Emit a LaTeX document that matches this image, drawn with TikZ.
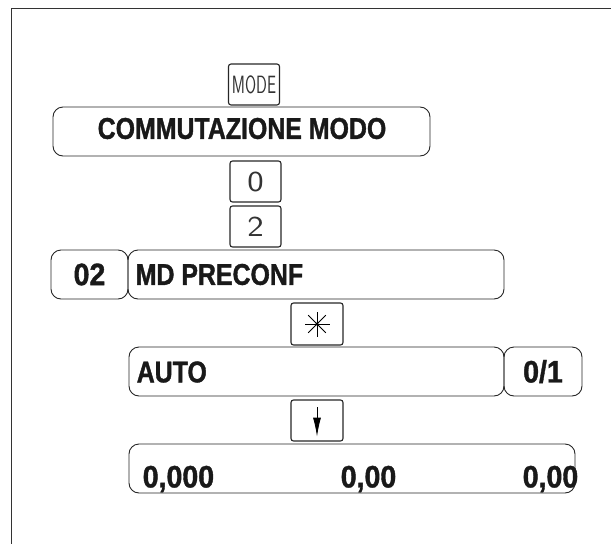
\documentclass[tikz,border=0pt]{standalone}
\usepackage{fontspec}
\usetikzlibrary{arrows.meta}
\newfontfamily\lblfont[FakeStretch=0.83, FakeBold=1.2]{Liberation Sans Bold}
\newfontfamily\numfont[FakeStretch=0.92, FakeBold=1.2]{Liberation Sans Bold}
\newfontfamily\keyfont[FakeStretch=0.64]{Latin Modern Sans}
\newfontfamily\keydigit[FakeStretch=1.2]{Latin Modern Sans}
\tikzset{
	panel/.style={draw=black!85, line width=0.9pt, rounded corners=10pt, inner sep=0pt, minimum height=49pt},
	keybox/.style={draw=black!85, line width=1.1pt, rounded corners=2.5pt, inner sep=0pt, minimum width=51pt, minimum height=41pt},
	lbl/.style={font=\lblfont\fontsize{30}{32}\selectfont, inner sep=0pt, text=black!90},
	num/.style={font=\numfont\fontsize{31}{33}\selectfont, inner sep=0pt, text=black!90},
	frame/.style={draw=black!80, line width=1.4pt}
}
\begin{document}
\begin{tikzpicture}[x=1pt, y=-1pt]
	\useasboundingbox (0,0) rectangle (611,544);
	\draw[frame] (611,8.5) -| (11.5,544);
	\node[keybox, font=\keyfont\fontsize{25}{27}\selectfont, text=black!80] (modekey) at (254,84.5) {MODE};
	\node[panel, minimum width=377pt] (title) at (241.5,131.5) {};
	\node[lbl] (titletext) at (242,128.5) {COMMUTAZIONE MODO};
	\node[keybox, font=\keydigit\fontsize{29}{31}\selectfont, text=black!80] (key0) at (255.5,181.5) {0};
	\node[keybox, font=\keydigit\fontsize{29}{31}\selectfont, text=black!80] (key2) at (255.5,226.5) {2};
	\node[panel, minimum width=77pt] (code) at (89.5,274.5) {};
	\node[num] (codetext) at (code.center) {02};
	\node[panel, minimum width=376pt] (menu) at (316,274.5) {};
	\node[lbl, anchor=west] (menutext) at ([shift={(8,0)}]menu.west) {MD PRECONF};
	\node[keybox, minimum width=52pt, minimum height=42pt] (starkey) at (317,324) {};
	\foreach \a in {0,45,90,135}
		\draw[line width=0.9pt] ([shift={(\a:12.5)}]starkey.center) -- ([shift={(\a+180:12.5)}]starkey.center);
	\fill (starkey.center) circle (1.6pt);
	\node[panel, minimum width=375pt] (auto) at (316.5,371.5) {};
	\node[lbl, anchor=west] (autotext) at ([shift={(8,0.5)}]auto.west) {AUTO};
	\node[panel, minimum width=78pt] (range) at (543,371.5) {};
	\node[num, anchor=base] (rangetext) at ([shift={(0,-14)}]range.south) {0/1};
	\node[keybox, minimum width=52pt] (downkey) at (317,420.5) {};
	\draw[line width=0.9pt, -{Latex[length=19pt, width=8pt]}] ([shift={(0,8)}]downkey.north) -- ([shift={(0,-5)}]downkey.south);
	\node[panel, minimum width=446pt] (readout) at (352,468.5) {};
	\node[num, anchor=base west] (weight) at ([shift={(14,-6)}]readout.south west) {0,000};
	\node[num, anchor=base west] (price) at ([shift={(212,-6)}]readout.south west) {0,00};
	\node[num, anchor=base east] (total) at ([shift={(3,-6)}]readout.south east) {0,00};
\end{tikzpicture}
\end{document}
